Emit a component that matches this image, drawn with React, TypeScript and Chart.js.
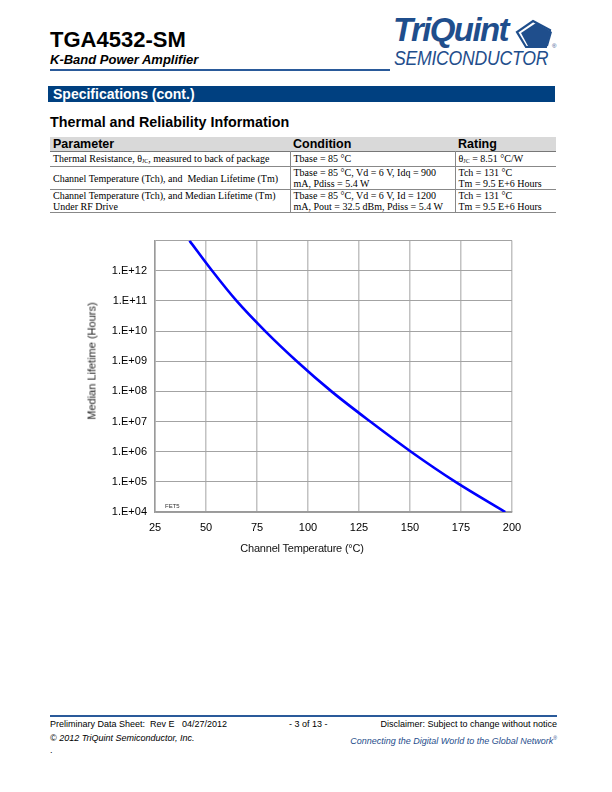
import React, { useEffect, useRef } from "react";
import { Chart, registerables } from "chart.js";

Chart.register(...registerables);

// Channel temperature (°C) at which the curve crosses each decade of median lifetime (hours)
const temps = [41.9, 53, 65, 79, 94.5, 111.5, 130.5, 150.5, 172.3, 196.7];
const lifetimes = [1e13, 1e12, 1e11, 1e10, 1e9, 1e8, 1e7, 1e6, 1e5, 1e4];

const xTicks = [25, 50, 75, 100, 125, 150, 175, 200];
const yTickValues = [1e4, 1e5, 1e6, 1e7, 1e8, 1e9, 1e10, 1e11, 1e12, 1e13];
const yTickLabels = ["1.E+04", "1.E+05", "1.E+06", "1.E+07", "1.E+08", "1.E+09", "1.E+10", "1.E+11", "1.E+12", ""];

const xTitle = "Channel Temperature (°C)";
const yTitle = "Median Lifetime (Hours)";

const SANS = '"Liberation Sans", Arial, sans-serif';
const SERIF = '"Liberation Serif", "Times New Roman", serif';
const BLUE = "#1f4e8c";

function LifetimeChart() {
  const ref = useRef<HTMLCanvasElement | null>(null);
  useEffect(() => {
    if (!ref.current) return;
    const chart = new Chart(ref.current, {
      type: "line",
      data: {
        datasets: [
          {
            data: temps.map((t, i) => ({ x: t, y: lifetimes[i] })),
            borderColor: "#0000ff",
            borderWidth: 2.6,
            pointRadius: 0,
            cubicInterpolationMode: "monotone",
            fill: false,
          },
        ],
      },
      options: {
        animation: false,
        responsive: false,
        maintainAspectRatio: false,
        layout: { padding: { top: 0, right: 48, left: 0, bottom: 0 } },
        plugins: { legend: { display: false }, tooltip: { enabled: false }, title: { display: false } },
        scales: {
          x: {
            type: "linear",
            min: 25,
            max: 200,
            afterBuildTicks: (s: any) => {
              s.ticks = xTicks.map((v) => ({ value: v }));
            },
            afterFit: (s: any) => {
              s.height = 44;
            },
            ticks: {
              color: "#000",
              font: { family: SANS, size: 11 },
              padding: 9,
              maxRotation: 0,
              callback: (v: any) => String(v),
            },
            grid: { color: "#c2c2c2", lineWidth: 1.5, drawTicks: false },
            border: { display: true, color: "#9a9a9a", width: 1.5 },
          },
          y: {
            type: "logarithmic",
            min: 1e4,
            max: 1e13,
            afterBuildTicks: (s: any) => {
              s.ticks = yTickValues.map((v) => ({ value: v }));
            },
            afterFit: (s: any) => {
              s.width = 115;
            },
            ticks: {
              color: "#000",
              font: { family: SANS, size: 11 },
              padding: 8,
              callback: (v: any) => {
                const i = yTickValues.indexOf(Number(v));
                return i >= 0 ? yTickLabels[i] : "";
              },
            },
            grid: { color: "#a3a3a3", lineWidth: 1, drawTicks: false },
            border: { display: true, color: "#9a9a9a", width: 1.5 },
          },
        },
      },
    });
    return () => chart.destroy();
  }, []);
  return (
    <canvas
      ref={ref}
      width={520}
      height={330}
      style={{ position: "absolute", left: 40, top: 226, width: 520, height: 330 }}
    />
  );
}

const abs = (l: number, t: number, extra: any = {}) => ({ position: "absolute" as const, left: l, top: t, whiteSpace: "nowrap" as const, ...extra });

export default function App() {
  const cell: any = { fontFamily: SERIF, fontSize: 10, color: "#000", lineHeight: "11px", padding: "0 3px", verticalAlign: "top" };
  const head: any = { fontFamily: SANS, fontSize: 12.5, fontWeight: "bold", color: "#000", textAlign: "left", padding: "0 3px", height: 14, lineHeight: "14px" };
  const sub = (t: string) => <sub style={{ fontSize: 6, verticalAlign: "-1px", lineHeight: 0 }}>{t}</sub>;
  const vb = "1px solid #888";
  return (
    <div style={{ position: "absolute", left: 0, top: 0, width: 612, height: 792, background: "#fff", overflow: "hidden", fontFamily: SANS }}>
      {/* Header */}
      <div style={abs(50, 27, { fontSize: 22, fontWeight: "bold", color: "#000", lineHeight: "26px" })}>TGA4532-SM</div>
      <div style={abs(50, 52, { fontSize: 13, fontWeight: "bold", fontStyle: "italic", color: "#000", lineHeight: "15px" })}>K-Band Power Amplifier</div>
      <div style={abs(50, 69, { width: 340, height: 2, background: "#2a5a9a" })} />
      {/* Logo */}
      <div style={abs(393, 12, { fontSize: 33, fontWeight: "bold", fontStyle: "italic", color: BLUE, letterSpacing: -1.6, lineHeight: "36px" })}>TriQuint</div>
      <svg style={abs(515, 19, {})} width={42} height={30} viewBox="0 0 42 30">
        <polygon points="18,2 35,11 31,28 11,28 2,13" fill="none" stroke={BLUE} strokeWidth={2.2} />
        <polygon points="21,4 37,13 33,27 13,27 6,14" fill={BLUE} />
        <text x={37} y={29} fontSize={6} fill={BLUE} fontFamily={SANS}>®</text>
      </svg>
      <div style={abs(394, 47, { fontSize: 21, fontStyle: "italic", color: BLUE, lineHeight: "22px", transform: "scaleX(0.84)", transformOrigin: "left top", letterSpacing: -0.3 })}>SEMICONDUCTOR</div>

      {/* Section bar */}
      <div style={abs(48, 86, { width: 507, height: 16, background: "#004080" })}>
        <div style={{ color: "#fff", fontSize: 14, fontWeight: "bold", lineHeight: "16px", paddingLeft: 5 }}>Specifications (cont.)</div>
      </div>

      <div style={abs(50, 113, { fontSize: 14.3, fontWeight: "bold", color: "#000", lineHeight: "18px" })}>Thermal and Reliability Information</div>

      {/* Table */}
      <table style={{ position: "absolute", left: 50, top: 137, width: 506, borderCollapse: "collapse", tableLayout: "fixed", borderSpacing: 0 }}>
        <colgroup>
          <col style={{ width: 240 }} />
          <col style={{ width: 165 }} />
          <col style={{ width: 101 }} />
        </colgroup>
        <thead>
          <tr style={{ background: "#d9d9d9", borderBottom: "1px solid #777" }}>
            <th style={head}>Parameter</th>
            <th style={head}>Condition</th>
            <th style={head}>Rating</th>
          </tr>
        </thead>
        <tbody>
          <tr style={{ borderBottom: vb }}>
            <td style={{ ...cell, height: 13, paddingTop: 1 }}>Thermal Resistance, θ{sub("JC")}, measured to back of package</td>
            <td style={{ ...cell, paddingTop: 1, borderLeft: vb }}>Tbase = 85 °C</td>
            <td style={{ ...cell, paddingTop: 1, borderLeft: vb }}>θ{sub("JC")} = 8.51 °C/W</td>
          </tr>
          <tr style={{ borderBottom: vb }}>
            <td style={{ ...cell, height: 22, verticalAlign: "middle" }}>Channel Temperature (Tch), and&nbsp; Median Lifetime (Tm)</td>
            <td style={{ ...cell, borderLeft: vb }}>Tbase = 85 °C, Vd = 6 V, Idq = 900<br />mA, Pdiss = 5.4 W</td>
            <td style={{ ...cell, borderLeft: vb }}>Tch = 131 °C<br />Tm = 9.5 E+6 Hours</td>
          </tr>
          <tr style={{ borderBottom: vb }}>
            <td style={{ ...cell, height: 22 }}>Channel Temperature (Tch), and Median Lifetime (Tm)<br />Under RF Drive</td>
            <td style={{ ...cell, borderLeft: vb }}>Tbase = 85 °C, Vd = 6 V, Id = 1200<br />mA, Pout = 32.5 dBm, Pdiss = 5.4 W</td>
            <td style={{ ...cell, borderLeft: vb }}>Tch = 131 °C<br />Tm = 9.5 E+6 Hours</td>
          </tr>
        </tbody>
      </table>

      {/* Chart */}
      <LifetimeChart />
      <div style={abs(165, 503, { fontSize: 6, color: "#333", lineHeight: "7px" })}>FET5</div>
      <div style={abs(302, 542, { fontSize: 11, color: "#111", fontWeight: "normal", lineHeight: "13px", transform: "translateX(-50%)", letterSpacing: -0.2 })}>{xTitle}</div>
      <div style={abs(92, 361, { fontSize: 11, color: "#222", fontWeight: "normal", lineHeight: "13px", transform: "translate(-50%, -50%) rotate(-90deg)" })}>{yTitle}</div>

      {/* Footer */}
      <div style={abs(50, 715, { width: 507, height: 2, background: "#2a5a9a" })} />
      <div style={abs(50, 719, { fontSize: 9, color: "#000", lineHeight: "11px" })}>Preliminary Data Sheet:&nbsp; Rev E&nbsp;&nbsp; 04/27/2012</div>
      <div style={abs(289, 719, { fontSize: 9, color: "#000", lineHeight: "11px" })}>- 3 of 13 -</div>
      <div style={abs(557, 719, { fontSize: 9, color: "#000", lineHeight: "11px", transform: "translateX(-100%)" })}>Disclaimer: Subject to change without notice</div>
      <div style={abs(50, 733, { fontSize: 9, color: "#000", fontStyle: "italic", lineHeight: "11px" })}>© 2012 TriQuint Semiconductor, Inc.</div>
      <div style={abs(557, 733, { fontSize: 9, color: BLUE, fontStyle: "italic", lineHeight: "11px", transform: "translateX(-100%)" })}>
        Connecting the Digital World to the Global Network<sup style={{ fontSize: 5 }}>®</sup>
      </div>
      <div style={abs(50, 745, { fontSize: 9, color: "#000", lineHeight: "11px" })}>.</div>
    </div>
  );
}
